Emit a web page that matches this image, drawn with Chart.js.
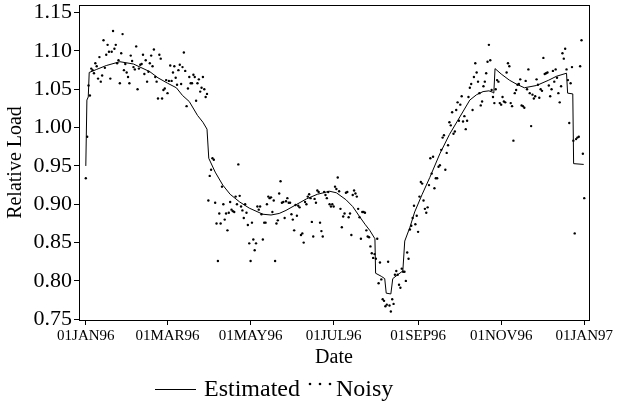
<!DOCTYPE html>
<html>
<head>
<meta charset="utf-8">
<script src="https://cdn.jsdelivr.net/npm/chart.js@4"></script>
<style>
  body { margin: 0; background: #fff; }
</style>
</head>
<body>
<canvas id="loadChart" width="622" height="414"></canvas>
<script>
// x axis: day of year 1996 (0 = 01JAN96)
const tickDays = [0, 60, 121, 182, 244, 305, 366];
const tickLabels = ['01JAN96', '01MAR96', '01MAY96', '01JUL96', '01SEP96', '01NOV96', '01JAN97'];
const yTicks = [0.75, 0.80, 0.85, 0.90, 0.95, 1.00, 1.05, 1.10, 1.15];

// Noisy daily values, index = day
const noisy = [
  0.934, 0.988, 1.055, 1.042, 1.077, 1.075, 1.071, 1.084, 1.080, 1.064,
  1.092, 1.060, 1.068, 1.114, 1.078, 1.095, 1.108, 1.099, 1.064, 1.099,
  1.126, 1.103, 1.108, 1.084, 1.088, 1.058, 1.097, 1.122, 1.075, 1.083,
  1.072, 1.066, 1.058, 1.094, 1.087, 1.079, 1.076, 1.106, 1.050, 1.077,
  1.082, 1.083, 1.095, 1.070, 1.088, 1.060, 1.073, 1.084, 1.094, 1.080,
  1.102, 1.066, 1.060, 1.038, 1.095, 1.090, 1.038, 1.049, 1.051, 1.062,
  1.045, 1.061, 1.081, 1.061, 1.072, 1.080, 1.065, 1.056, 1.075, 1.082,
  1.057, 1.079, 1.098, 1.074, 1.028, 1.051, 1.066, 1.058, 1.058, 1.069,
  1.066, 1.035, 1.058, 1.063, 1.047, 1.052, 1.066, 1.050, 1.040, 1.044,
  0.905, 0.937, 0.945, 0.960, 0.958, 0.902, 0.875, 0.826, 0.888, 0.875,
  0.923, 0.900, 0.880, 0.888, 0.866, 0.889, 0.903, 0.893, 0.891, 0.890,
  0.910, 0.900, 0.952, 0.911, 0.897, 0.892, 0.882, 0.900, 0.889, 0.873,
  0.849, 0.826, 0.876, 0.854, 0.840, 0.849, 0.897, 0.893, 0.897, 0.887,
  0.854, 0.876, 0.876, 0.900, 0.910, 0.908, 0.909, 0.890, 0.905, 0.826,
  0.875, 0.879, 0.914, 0.930, 0.902, 0.903, 0.882, 0.904, 0.908, 0.902,
  0.902, 0.887, 0.880, 0.866, 0.899, 0.885, 0.898, 0.896, 0.860, 0.862,
  0.850, 0.903, 0.900, 0.910, 0.913, 0.908, 0.877, 0.858, 0.907, 0.902,
  0.918, 0.916, 0.876, 0.865, 0.858, 0.916, 0.912, 0.908, 0.916, 0.900,
  0.897, 0.900, 0.897, 0.923, 0.920, 0.935, 0.917, 0.894, 0.870, 0.884,
  0.888, 0.915, 0.916, 0.883, 0.888, 0.860, 0.912, 0.918, 0.914, 0.910,
  0.894, 0.883, 0.855, 0.890, 0.890, 0.889, 0.866, 0.858, 0.857, 0.845,
  0.836, 0.830, 0.835, 0.829, 0.855, 0.797, 0.824, 0.802, 0.776, 0.774,
  0.767, 0.769, 0.825, 0.768, 0.760, 0.776, 0.770, 0.808, 0.813, 0.808,
  0.795, 0.791, 0.816, 0.812, 0.812, 0.800, 0.837, 0.829, 0.867, 0.872,
  0.882, 0.898, 0.874, 0.885, 0.864, 0.910, 0.929, 0.927, 0.905, 0.894,
  0.889, 0.896, 0.925, 0.960, 0.940, 0.962, 0.921, 0.934, 0.934, 0.949,
  0.951, 0.971, 0.987, 0.990, 0.945, 0.967, 0.977, 1.007, 1.003, 1.020,
  0.992, 0.995, 1.023, 1.033, 1.009, 1.030, 1.041, 1.008, 1.015, 0.998,
  1.009, 1.040, 1.052, 1.057, 1.023, 1.066, 1.084, 1.072, 1.060, 1.045,
  1.029, 1.034, 1.054, 1.060, 1.071, 1.086, 1.108, 1.088, 1.049, 1.040,
  1.032, 1.050, 1.062, 1.060, 1.032, 1.030, 1.040, 1.034, 1.033, 1.072,
  1.084, 1.080, 1.032, 1.028, 0.983, 1.045, 1.049, 1.056, 1.057, 1.063,
  1.029, 1.028, 1.026, 1.061, 1.050, 1.076, 1.045, 1.002, 1.043, 1.038,
  1.041, 1.063, 1.056, 1.039, 1.050, 1.048, 1.091, 1.070, 1.071, 1.072,
  1.055, 1.041, 1.050, 1.074, 1.060, 1.076, 1.065, 1.045, 1.033, 1.054,
  1.097, 1.090, 1.103, 1.076, 1.062, 1.006, 1.058, 1.079, 0.983, 0.862,
  0.985, 0.987, 0.988, 1.080, 1.114, 0.966, 0.908
];

// Estimated curve, read at key days
const estDays = [0, 0.8, 1.8, 2.5, 8, 15, 25, 35, 47, 53, 60, 66.5, 71, 76, 82, 86, 89, 90.3,
  95, 100.6, 106, 113, 120, 130, 136, 142, 147, 155, 162, 170, 179, 184, 191, 196, 201, 205,
  208.5, 212.3, 212.8, 217, 219.5, 220.6, 224, 225.4, 229, 232.8, 234.2, 238, 241.5, 247,
  252.6, 260, 267, 275, 282, 287, 291.7, 296, 299, 299.6, 300.5, 305, 311, 316, 322, 331,
  340, 345.6, 353, 353.8, 357.6, 358.2, 365.6];
const estVals = [0.950, 1.036, 1.040, 1.072, 1.076, 1.081, 1.086, 1.083, 1.073, 1.065, 1.058,
  1.052, 1.042, 1.034, 1.016, 1.007, 0.998, 0.960,
  0.942, 0.925, 0.913, 0.903, 0.895, 0.887, 0.886, 0.888, 0.892, 0.900, 0.907, 0.913, 0.917,
  0.915, 0.906, 0.897, 0.884, 0.874,
  0.866, 0.855, 0.810, 0.806, 0.803, 0.784, 0.783, 0.803, 0.808, 0.813, 0.852, 0.870, 0.890,
  0.913, 0.935, 0.966, 0.991, 1.015, 1.036, 1.043, 1.047, 1.048, 1.046, 1.045, 1.077, 1.070,
  1.062, 1.057, 1.052, 1.055, 1.062, 1.067, 1.071, 1.045, 1.044, 0.953, 0.952];

const serif = 'Liberation Serif';

// box round the plot area and the legend below
const framePlugin = {
  id: 'frame',
  afterDraw(chart) {
    const ctx = chart.ctx;
    const a = chart.chartArea;
    ctx.save();
    ctx.strokeStyle = '#000';
    ctx.lineWidth = 1;
    ctx.strokeRect(a.left + 0.5, a.top + 0.5, a.right - a.left, a.bottom - a.top);

    const y = 389;
    ctx.beginPath();
    ctx.moveTo(155, y + 0.5);
    ctx.lineTo(196, y + 0.5);
    ctx.stroke();
    ctx.fillStyle = '#000';
    ctx.font = '24px "' + serif + '"';
    ctx.textBaseline = 'middle';
    ctx.fillText('Estimated', 204, y + 1);
    [310, 320, 330].forEach(x => {
      ctx.beginPath();
      ctx.arc(x, y - 5, 1.3, 0, Math.PI * 2);
      ctx.fill();
    });
    ctx.fillText('Noisy', 336, y + 1);
    ctx.restore();
  }
};

new Chart(document.getElementById('loadChart'), {
  type: 'scatter',
  data: {
    datasets: [{
      label: 'Estimated',
      data: estDays.map((d, i) => ({ x: d, y: estVals[i] })),
      showLine: true,
      borderColor: '#000',
      borderWidth: 1,
      pointRadius: 0,
      tension: 0
    }, {
      label: 'Noisy',
      data: noisy.map((v, i) => ({ x: i, y: v })),
      showLine: false,
      backgroundColor: '#000',
      borderWidth: 0,
      pointRadius: 1.2
    }]
  },
  options: {
    responsive: false,
    animation: false,
    layout: { padding: { left: 0, right: 33, top: 5, bottom: 44 } },
    plugins: { legend: { display: false }, tooltip: { enabled: false } },
    scales: {
      x: {
        type: 'linear',
        min: -5,
        max: 369.5,
        afterBuildTicks: s => { s.ticks = tickDays.map(v => ({ value: v })); },
        afterFit: s => { s.height = 50; s.paddingLeft = 0; s.paddingRight = 0; },
        grid: { drawOnChartArea: false, drawTicks: true, tickLength: 5, color: '#000' },
        border: { color: '#000' },
        ticks: {
          autoSkip: false, maxRotation: 0, padding: 2, color: '#000',
          font: { family: serif, size: 15 },
          callback: v => tickLabels[tickDays.indexOf(v)]
        },
        title: { display: true, text: 'Date', color: '#000', font: { family: serif, size: 20 }, padding: { top: 0, bottom: 0 } }
      },
      y: {
        min: 0.749,
        max: 1.16,
        afterBuildTicks: s => { s.ticks = yTicks.map(v => ({ value: v })); },
        afterFit: s => { s.width = 79; s.paddingTop = 0; s.paddingBottom = 0; },
        grid: { drawOnChartArea: false, drawTicks: true, tickLength: 5, color: '#000' },
        border: { color: '#000' },
        ticks: {
          padding: 2, color: '#000',
          font: { family: serif, size: 22 },
          callback: v => v.toFixed(2)
        },
        title: { display: true, text: 'Relative Load', color: '#000', font: { family: serif, size: 20 }, padding: { top: 4, bottom: 0 } }
      }
    }
  },
  plugins: [framePlugin]
});
</script>
</body>
</html>
